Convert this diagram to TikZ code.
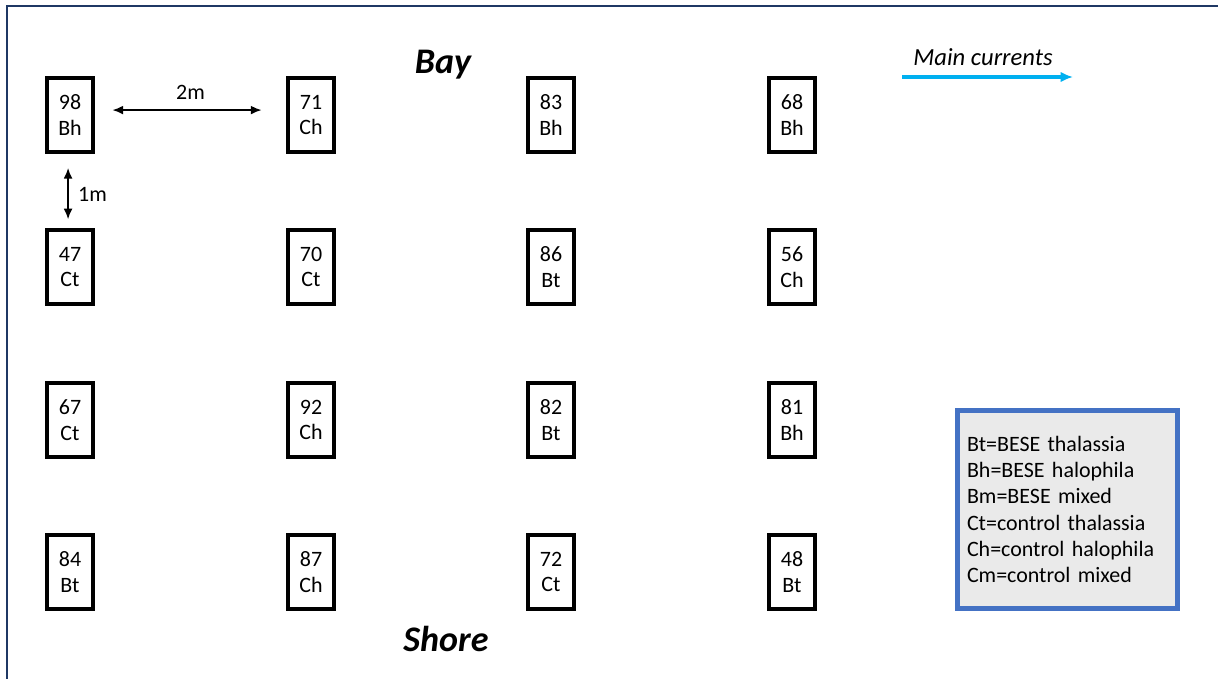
\documentclass[tikz,border=0pt]{standalone}
\usepackage{fontspec}
\setmainfont{Carlito}
\usetikzlibrary{arrows.meta}
\definecolor{framenavy}{RGB}{31,56,100}
\definecolor{currentcyan}{RGB}{0,176,240}
\definecolor{legendblue}{RGB}{68,114,196}
\definecolor{legendgray}{RGB}{234,234,234}

\begin{document}
\begin{tikzpicture}[x=0.02cm, y=-0.02cm,
    every node/.style={font=\fontsize{12.5}{14.6}\selectfont},
    plotbox/.style={draw, line width=2.2pt, minimum width=0.92cm, minimum height=1.48cm, inner sep=0pt, align=center},
    dimarrow/.style={{Latex[length=6pt,width=5pt]}-{Latex[length=6pt,width=5pt]}, line width=0.9pt},
    sidelabel/.style={font=\fontsize{20.5}{24}\selectfont\bfseries\itshape}]
    \useasboundingbox (0,0) rectangle (1218,679);
    \draw[framenavy, line width=1.1pt] (7,679) -- (7,6) -- (1218,6);
    % plots, row by row from the bay side
    \node[plotbox] (p98) at (70,115) {98\\Bh};
    \node[plotbox] (p71) at (311,115) {71\\Ch};
    \node[plotbox] (p83) at (551,115) {83\\Bh};
    \node[plotbox] (p68) at (792,115) {68\\Bh};
    \node[plotbox] (p47) at (70,267) {47\\Ct};
    \node[plotbox] (p70) at (311,267) {70\\Ct};
    \node[plotbox] (p86) at (551,267) {86\\Bt};
    \node[plotbox] (p56) at (792,267) {56\\Ch};
    \node[plotbox] (p67) at (70,420) {67\\Ct};
    \node[plotbox] (p92) at (311,420) {92\\Ch};
    \node[plotbox] (p82) at (551,420) {82\\Bt};
    \node[plotbox] (p81) at (792,420) {81\\Bh};
    \node[plotbox] (p84) at (70,572) {84\\Bt};
    \node[plotbox] (p87) at (311,572) {87\\Ch};
    \node[plotbox] (p72) at (551,572) {72\\Ct};
    \node[plotbox] (p48) at (792,572) {48\\Bt};
    % spacing
    \draw[dimarrow, shorten <=10pt, shorten >=14pt] ([yshift=2.8pt]p98.east) -- node[above, yshift=2pt] (dx) {2m} ([yshift=2.8pt]p71.west);
    \draw[dimarrow, shorten <=8pt, shorten >=5pt] ([xshift=-1.1pt]p98.south) -- node[right, xshift=2pt, yshift=-2pt] (dy) {1m} ([xshift=-1.1pt]p47.north);
    \node[sidelabel] (bay) at (443,65) {Bay};
    \node[sidelabel] (shore) at (446,639) {Shore};
    % currents
    \coordinate (cur0) at (902,77);
    \coordinate (cur1) at (1073,77);
    \draw[-{Latex[length=7pt,width=6pt]}, currentcyan, line width=1.8pt] (cur0) -- (cur1);
    \node[font=\fontsize{14}{16}\selectfont\itshape] (cur) at (983,57) {Main currents};
    \node[draw=legendblue, line width=2.8pt, fill=legendgray, minimum width=4.4cm, minimum height=3.96cm,
        text width=4.02cm, inner xsep=0.19cm, align=left, font=\fontsize{12.5}{14.9}\selectfont] (legend) at (1067.5,509.5)
        {Bt=BESE thalassia\\Bh=BESE halophila\\Bm=BESE mixed\\Ct=control thalassia\\Ch=control halophila\\Cm=control mixed};
\end{tikzpicture}
\end{document}
